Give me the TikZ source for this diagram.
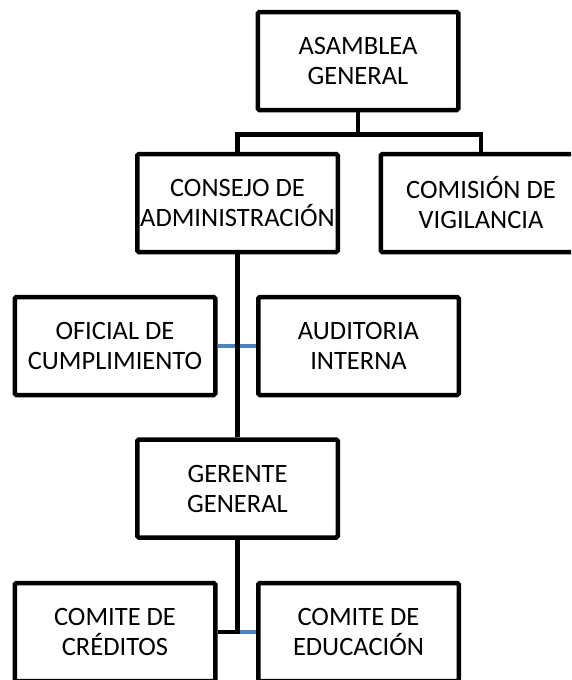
\documentclass[tikz,border=0pt]{standalone}
\usepackage{fontspec}
\setmainfont{Carlito}
\usepackage{tikz}
\definecolor{linkblue}{RGB}{79,129,189}
\tikzset{
  unit/.style={draw, line width=4.5pt, rounded corners=1.5pt, align=center,
    minimum width=200.5pt, minimum height=98pt, inner sep=0pt,
    font=\fontsize{26.5}{30}\selectfont},
  link/.style={line width=4.5pt},
  sidelink/.style={line width=4.5pt, linkblue}
}
\begin{document}
\begin{tikzpicture} [x=1pt, y=-1pt]

\useasboundingbox (0,0) rectangle (571,680);
\clip (0,0) rectangle (571,680);

\node [unit] (asamblea) at (358,61) {ASAMBLEA\\GENERAL};
\node [unit] (consejo) at (237.5,203) {CONSEJO DE\\ADMINISTRACIÓN};
\node [unit] (comision) at (481,203) {COMISIÓN DE\\VIGILANCIA};
\node [unit] (oficial) at (115,346) {OFICIAL DE\\CUMPLIMIENTO};
\node [unit] (auditoria) at (358.5,346) {AUDITORIA\\INTERNA};
\node [unit] (gerente) at (237.5,488.5) {GERENTE\\GENERAL};
\node [unit] (creditos) at (115,632) {COMITE DE\\CRÉDITOS};
\node [unit] (educacion) at (358.5,632) {COMITE DE\\EDUCACIÓN};

\draw [sidelink] (oficial.east)--(auditoria.west);
\draw [sidelink] (creditos.east)--(educacion.west);

\draw [link] (asamblea.south)--++(0,22)-|(consejo.north);
\draw [link] (asamblea.south)--++(0,22)-|(comision.north);
\draw [link] (consejo.south)--(gerente.north);
\draw [link] (gerente.south)|-(creditos.east);

\end{tikzpicture}
\end{document}
